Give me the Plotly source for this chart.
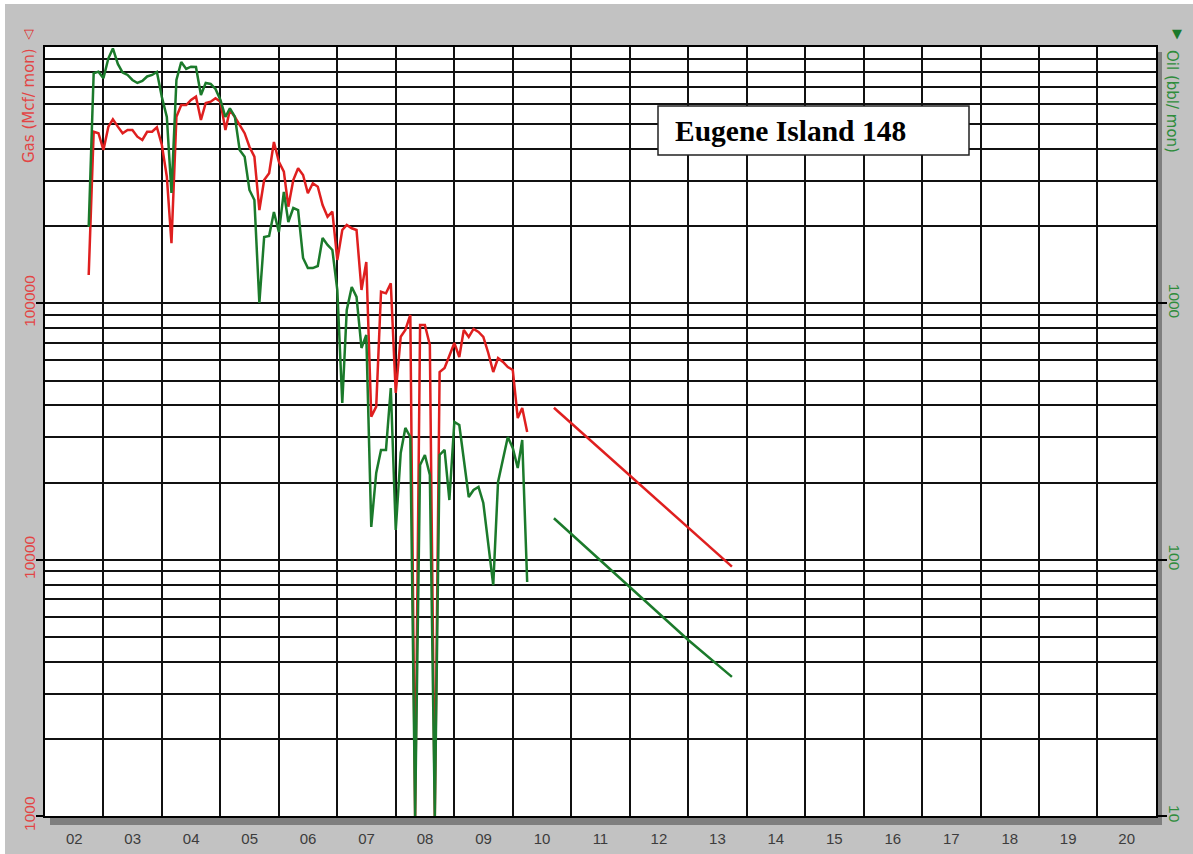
import pandas as pd
import plotly.graph_objects as go

# ---- Eugene Island 148: monthly production history (from Oct 2002) ----
FIRST_MONTH = "2002-10-01"
SHUT_IN_GAS = 1000   # shut-in months are drawn on the axis floor
SHUT_IN_OIL = 10

gas_mcf = [
    129000, 467000, 461000, 396500, 489000, 522000, 489000, 461000, 474600, 474600,
    446800, 433700, 467000, 467000, 486300, 414700, 311900, 171500, 534700, 594000,
    594000, 621400, 640000, 519000, 604800, 611900, 630900, 611900, 474600, 567900,
    533300, 496400, 461000, 408400, 373400, 231200, 302800, 321600, 426000, 356900,
    326300, 238200, 302800, 336400, 316700, 268800, 294000, 285100, 241900, 217800,
    227800, 147600, 193200, 202100, 196200, 193200, 112700, 145000, 36130, 39530,
    111000, 109400, 119700, 44690, 74120, 78700, 90050, SHUT_IN_GAS, 82310, 82310,
    68790, SHUT_IN_GAS, 53970, 55950, 62880, 70040, 61760, 78700, 73920, 79420,
    77310, 73920, 64020, 53970, 61210, 59040, 56440, 54950, 35700, 39060, 31490,
]

oil_bbl = [
    1991, 7897, 8012, 7551, 9035, 9867, 8585, 7953, 7778, 7436,
    7238, 7369, 7674, 7778, 7990, 6383, 5333, 2695, 7436, 8740,
    8209, 8381, 8356, 6499, 7238, 7174, 6859, 6214, 5333, 5767,
    5347, 3965, 3734, 2769, 2531, 1003, 1815, 1831, 2272, 1898,
    2720, 2076, 2354, 2312, 1503, 1373, 1373, 1398, 1798, 1689,
    1615, 1127, 408.6, 942, 1158, 1059, 669.6, 752.4, 134.1, 217.8,
    267.9, 267.9, 467.4, 130.5, 260.8, 326.4, 301.1, SHUT_IN_OIL, 234.1, 256.2,
    213.9, SHUT_IN_OIL, 256.2, 267.9, 170.9, 344.4, 335.3, 244.8, 175.6, 187.0,
    192.1, 166.4, 116.1, 79.6, 200.9, 244.8, 301.1, 272.7, 227.8, 293.1, 81.8,
]

# ---- decline forecasts ----
gas_fc_dates = ["2010-09-15", "2013-10-01"]
gas_fc_mcf = [39160, 9390]
oil_fc_dates = ["2010-09-15", "2012-01-01", "2013-01-01", "2013-10-01"]
oil_fc_bbl = [145, 78.4, 48.6, 34.9]

# ---- axis labels ----
gas_tickvals = [1000, 10000, 100000]
gas_ticktext = ["1000", "10000", "100000"]
oil_tickvals = [10, 100, 1000]
oil_ticktext = ["10", "100", "1000"]
x_range = ["2002-01-01", "2021-01-01"]

months = pd.date_range(FIRST_MONTH, periods=len(gas_mcf), freq="MS")

GAS = "#df1f1f"
OIL = "#1b7a2b"
GAS_TXT = "#e24545"
OIL_TXT = "#2f8c3c"
GRID = "#111111"
PANEL = "#c2c2c2"
SHADOW = "#7e7e7e"
SANS = "Liberation Sans, Arial, sans-serif"

# log grid: every 1..9 step of each decade on the gas scale
grid_vals = [m * 10 ** e for e in range(3, 6) for m in range(1, 10)] + [10 ** 6]

fig = go.Figure()
# carrier for the minor log grid
fig.add_trace(go.Scatter(x=[], y=[], yaxis="y3", hoverinfo="skip", showlegend=False))
fig.add_trace(go.Scatter(x=months, y=gas_mcf, mode="lines", name="Gas",
                         line=dict(color=GAS, width=2.5), yaxis="y"))
fig.add_trace(go.Scatter(x=gas_fc_dates, y=gas_fc_mcf, mode="lines", name="Gas forecast",
                         line=dict(color=GAS, width=2.5), yaxis="y"))
fig.add_trace(go.Scatter(x=months, y=oil_bbl, mode="lines", name="Oil",
                         line=dict(color=OIL, width=2.5), yaxis="y2"))
fig.add_trace(go.Scatter(x=oil_fc_dates, y=oil_fc_bbl, mode="lines", name="Oil forecast",
                         line=dict(color=OIL, width=2.5), yaxis="y2"))

fig.update_layout(
    width=1193, height=854, autosize=False,
    margin=dict(l=45, r=37, t=47, b=38, pad=0),
    paper_bgcolor=PANEL, plot_bgcolor="white",
    showlegend=False,
    xaxis=dict(
        type="date", range=x_range, tick0="2002-01-01", dtick="M12",
        tickformat="%y", ticklabelmode="period", automargin=False,
        showgrid=True, gridcolor=GRID, gridwidth=1.5,
        showline=True, linecolor="black", linewidth=2, mirror=True,
        ticks="", ticklabelstandoff=8,
        tickfont=dict(family=SANS, size=15, color="#3c3c3c"),
        zeroline=False,
    ),
    yaxis=dict(
        type="log", range=[3, 6], tickvals=gas_tickvals, ticktext=gas_ticktext,
        tickangle=-90, ticks="outside", ticklen=7, tickwidth=1.5, tickcolor="black",
        ticklabelstandoff=-5, automargin=False,
        showgrid=False, showline=True, linecolor="black", linewidth=2,
        tickfont=dict(family=SANS, size=15.5, color=GAS_TXT), zeroline=False,
    ),
    yaxis2=dict(
        type="log", range=[1, 4], overlaying="y", side="right", anchor="x",
        tickvals=oil_tickvals, ticktext=oil_ticktext,
        tickangle=90, ticks="outside", ticklen=9, tickwidth=1.5, tickcolor="black",
        ticklabelstandoff=-4, automargin=False,
        showgrid=False, showline=True, linecolor="black", linewidth=2,
        tickfont=dict(family=SANS, size=15.5, color=OIL_TXT), zeroline=False,
    ),
    yaxis3=dict(
        type="log", range=[3, 6], overlaying="y", anchor="x", tickvals=grid_vals,
        showgrid=True, gridcolor=GRID, gridwidth=1.5, automargin=False,
        showticklabels=False, ticks="", showline=False, zeroline=False,
    ),
)

W, H = 1111.0, 769.0  # plot area in pixels


def px(xp):
    return (xp - 45) / W


def py(yp):
    return (816 - yp) / H


shapes = [
    # white page edge above and left of the panel
    dict(type="rect", xref="paper", yref="paper", x0=px(0), x1=px(1193), y0=py(4), y1=py(0),
         fillcolor="white", line=dict(width=0), layer="below"),
    dict(type="rect", xref="paper", yref="paper", x0=px(0), x1=px(5), y0=py(854), y1=py(0),
         fillcolor="white", line=dict(width=0), layer="below"),
    # drop shadow of the plot frame
    dict(type="rect", xref="paper", yref="paper", x0=px(50), x1=px(1162), y0=py(825), y1=py(816),
         fillcolor=SHADOW, line=dict(width=0), layer="below"),
    dict(type="rect", xref="paper", yref="paper", x0=px(1156), x1=px(1162), y0=py(825), y1=py(52),
         fillcolor=SHADOW, line=dict(width=0), layer="below"),
    # title box
    dict(type="rect", xref="paper", yref="paper", x0=px(658), x1=px(969), y0=py(155), y1=py(106),
         fillcolor="white", line=dict(color="#222222", width=1.5), layer="above"),
]
fig.update_layout(shapes=shapes)

annotations = [
    dict(text="<b>Eugene Island 148</b>", xref="paper", yref="paper", x=px(673), y=py(131),
         xanchor="left", yanchor="middle", showarrow=False,
         font=dict(family="Liberation Serif, Times New Roman, serif", size=29.5, color="black")),
    dict(text="Gas (Mcf/ mon)", xref="paper", yref="paper", x=px(29), y=py(106),
         xanchor="center", yanchor="middle", textangle=-90, showarrow=False,
         font=dict(family="DejaVu Sans, sans-serif", size=15, color=GAS_TXT)),
    dict(text="▽", xref="paper", yref="paper", x=px(29), y=py(34),
         xanchor="center", yanchor="middle", showarrow=False,
         font=dict(family="DejaVu Sans, sans-serif", size=13, color=GAS)),
    dict(text="Oil (bbl/ mon)", xref="paper", yref="paper", x=px(1172), y=py(101),
         xanchor="center", yanchor="middle", textangle=90, showarrow=False,
         font=dict(family="DejaVu Sans, sans-serif", size=15, color=OIL_TXT)),
    dict(text="▼", xref="paper", yref="paper", x=px(1177), y=py(33),
         xanchor="center", yanchor="middle", showarrow=False,
         font=dict(family="DejaVu Sans, sans-serif", size=13, color=OIL)),
]
fig.update_layout(annotations=annotations)

fig.write_html("out.html")
